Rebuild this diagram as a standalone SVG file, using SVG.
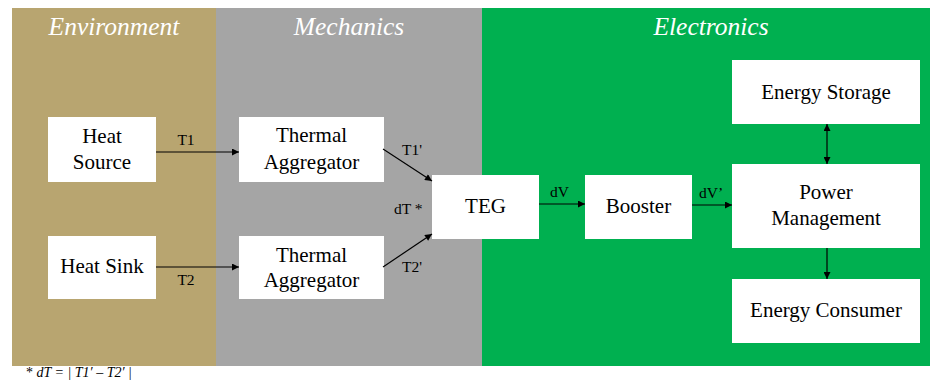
<svg xmlns="http://www.w3.org/2000/svg" width="936" height="389" viewBox="0 0 936 389" font-family="'Liberation Serif', 'Times New Roman', 'DejaVu Serif', serif">
<defs>
<style>
text{font-family:'Liberation Serif','Times New Roman','DejaVu Serif',serif}
.hdr{font-style:italic;font-size:25.5px;fill:#ffffff;text-anchor:middle}
.box{fill:#ffffff}
.t{font-size:21px;fill:#000000;text-anchor:middle}
.lbl{font-size:15.5px;fill:#000000}
.con{stroke:#000000;stroke-width:1.2;fill:none}
.note{font-size:14px;fill:#000000}
</style>
<marker id="ah" viewBox="0 0 10 10" refX="10" refY="5" markerWidth="9" markerHeight="7" markerUnits="userSpaceOnUse" orient="auto-start-reverse">
<path d="M0,0 L10,5 L0,10 z" fill="#000000"/>
</marker>
</defs>
<rect x="0" y="0" width="936" height="389" fill="#ffffff"/>
<g id="panels">
<rect x="12" y="8" width="204" height="358" fill="#B8A570"/>
<rect x="216" y="8" width="266" height="358" fill="#A5A5A5"/>
<rect x="482" y="8" width="448" height="358" fill="#00B050"/>
<text class="hdr" x="114" y="35">Environment</text>
<text class="hdr" x="349" y="35">Mechanics</text>
<text class="hdr" x="711" y="35">Electronics</text>
</g>
<g id="heat-source">
<rect class="box" x="48" y="117" width="108" height="65"/>
<text class="t" x="102" y="143">Heat</text>
<text class="t" x="102" y="169">Source</text>
</g>
<g id="heat-sink">
<rect class="box" x="48" y="236" width="108" height="63"/>
<text class="t" x="102" y="273">Heat Sink</text>
</g>
<g id="thermal-aggregator-1">
<rect class="box" x="239" y="117" width="145" height="65"/>
<text class="t" x="311.5" y="142">Thermal</text>
<text class="t" x="311.5" y="169">Aggregator</text>
</g>
<g id="thermal-aggregator-2">
<rect class="box" x="239" y="236" width="145" height="63"/>
<text class="t" x="311.5" y="262">Thermal</text>
<text class="t" x="311.5" y="287">Aggregator</text>
</g>
<g id="teg">
<rect class="box" x="432" y="175" width="107" height="64"/>
<text class="t" x="485.5" y="213">TEG</text>
</g>
<g id="booster">
<rect class="box" x="585" y="175" width="107" height="64"/>
<text class="t" x="638.5" y="213">Booster</text>
</g>
<g id="energy-storage">
<rect class="box" x="732" y="60" width="188" height="64"/>
<text class="t" x="826" y="99">Energy Storage</text>
</g>
<g id="power-management">
<rect class="box" x="732" y="164" width="188" height="84"/>
<text class="t" x="826" y="199">Power</text>
<text class="t" x="826" y="225">Management</text>
</g>
<g id="energy-consumer">
<rect class="box" x="732" y="279" width="188" height="64"/>
<text class="t" x="826" y="317">Energy Consumer</text>
</g>
<g id="connectors">
<line class="con" x1="156" y1="152" x2="239" y2="152" marker-end="url(#ah)"/>
<line class="con" x1="156" y1="267" x2="239" y2="267" marker-end="url(#ah)"/>
<line class="con" x1="383" y1="149" x2="432" y2="181" marker-end="url(#ah)"/>
<line class="con" x1="383" y1="267" x2="432" y2="234" marker-end="url(#ah)"/>
<line class="con" x1="539" y1="204" x2="585" y2="204" marker-end="url(#ah)"/>
<line class="con" x1="692" y1="205" x2="732" y2="205" marker-end="url(#ah)"/>
<line class="con" x1="827" y1="124" x2="827" y2="164" marker-start="url(#ah)" marker-end="url(#ah)"/>
<line class="con" x1="827" y1="248" x2="827" y2="279" marker-end="url(#ah)"/>
<text class="lbl" x="186" y="145" text-anchor="middle">T1</text>
<text class="lbl" x="186" y="285" text-anchor="middle">T2</text>
<text class="lbl" x="402" y="155">T1'</text>
<text class="lbl" x="402" y="272">T2'</text>
<text class="lbl" x="394" y="214">dT *</text>
<text class="lbl" x="550" y="197">dV</text>
<text class="lbl" x="699" y="198">dV’</text>
</g>
<text class="note" x="26" y="377"><tspan>* </tspan><tspan font-style="italic">dT = | T1′ – T2′ |</tspan></text>
</svg>
